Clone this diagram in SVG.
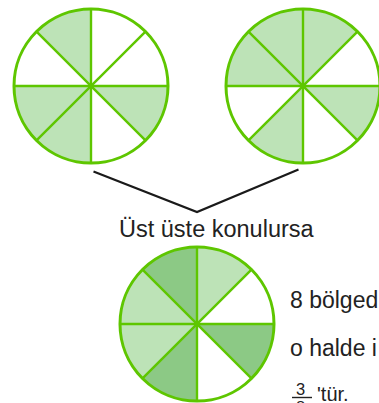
<svg xmlns="http://www.w3.org/2000/svg" xmlns:xlink="http://www.w3.org/1999/xlink" width="379" height="403" viewBox="0 0 379 403">
  <style>
    .light { fill: #bde3b7; }
    .dark { fill: #8cc985; }
    .rim { fill: none; stroke: #5ec600; stroke-width: 3; }
    .spoke { stroke: #5ec600; stroke-width: 2.4; }
    .txt { font-family: "Liberation Sans", Arial, sans-serif; fill: #222; }
    .link { fill: none; stroke: #1a1a1a; stroke-width: 2.2; }
  </style>
  <defs>
    <!-- one eighth of a disc, from 12 o'clock clockwise to 1:30 -->
    <path id="slice" d="M0,0 L0,-77 A77,77 0 0 1 54.45,-54.45 Z"/>
    <!-- four diameters plus the outer rim -->
    <g id="wheel">
      <line class="spoke" x1="0" y1="-77" x2="0" y2="77"/>
      <line class="spoke" x1="-77" y1="0" x2="77" y2="0"/>
      <line class="spoke" x1="-54.45" y1="-54.45" x2="54.45" y2="54.45"/>
      <line class="spoke" x1="-54.45" y1="54.45" x2="54.45" y2="-54.45"/>
      <circle class="rim" cx="0" cy="0" r="77"/>
    </g>
  </defs>

  <g id="circle-left" transform="translate(91,86)">
    <use href="#slice" class="light" transform="rotate(315)"/>
    <use href="#slice" class="light" transform="rotate(225)"/>
    <use href="#slice" class="light" transform="rotate(180)"/>
    <use href="#slice" class="light" transform="rotate(90)"/>
    <use href="#wheel"/>
  </g>

  <g id="circle-right" transform="translate(303,86)">
    <use href="#slice" class="light" transform="rotate(315)"/>
    <use href="#slice" class="light"/>
    <use href="#slice" class="light" transform="rotate(270)"/>
    <use href="#slice" class="light" transform="rotate(90)"/>
    <use href="#slice" class="light" transform="rotate(180)"/>
    <use href="#wheel"/>
  </g>

  <g id="connectors">
    <polyline class="link" points="93.5,171.5 197,212 298.5,169.5"/>
  </g>

  <g id="label">
    <text class="txt" x="119" y="236.5" font-size="23.5">Üst üste konulursa</text>
  </g>

  <g id="circle-result" transform="translate(197,324)">
    <use href="#slice" class="dark" transform="rotate(315)"/>
    <use href="#slice" class="light"/>
    <use href="#slice" class="dark" transform="rotate(90)"/>
    <use href="#slice" class="dark" transform="rotate(180)"/>
    <use href="#slice" class="light" transform="rotate(225)"/>
    <use href="#slice" class="light" transform="rotate(270)"/>
    <use href="#wheel"/>
  </g>

  <g id="note">
    <text class="txt" x="290" y="308" font-size="23">8 bölged</text>
    <text class="txt" x="290" y="355.5" font-size="23">o halde i</text>
    <text class="txt" x="296" y="394.5" font-size="16.5">3</text>
    <line x1="292" y1="397.5" x2="312" y2="397.5" stroke="#222" stroke-width="1.4"/>
    <text class="txt" x="296" y="413" font-size="16.5">8</text>
    <text class="txt" x="317" y="401" font-size="20">'tür.</text>
  </g>
</svg>
